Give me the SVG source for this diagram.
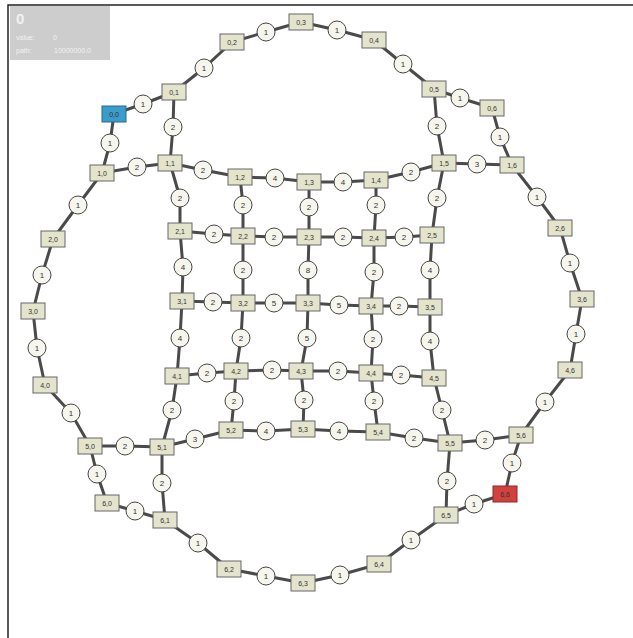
<svg xmlns="http://www.w3.org/2000/svg" width="633" height="638" viewBox="0 0 633 638">
<style>
.frame{stroke:#222;stroke-width:1.5;fill:none}
.e{fill:none;stroke:#4a4a4a;stroke-width:3;stroke-linejoin:round}
.w circle{fill:#f6f6ee;stroke:#444;stroke-width:1}
.w text{font-family:"Liberation Sans",Arial,sans-serif;font-size:8px;fill:#333;text-anchor:middle;dominant-baseline:central}
.n rect{fill:#e4e4cc;stroke:#666;stroke-width:1}
.n text{font-family:"Liberation Sans",Arial,sans-serif;font-size:7px;fill:#333;text-anchor:middle;dominant-baseline:central}
.n.start rect{fill:#3a9ccb;stroke:#2a6a8a}
.n.goal rect{fill:#d0413f;stroke:#8a2a2a}
.info text{font-family:"Liberation Sans",Arial,sans-serif;fill:#f2f2f2}
</style>
<rect width="633" height="638" fill="#fff"/>
<path class="frame" d="M8,638 V5 H633"/>
<g id="info" class="info">
<rect x="10" y="6" width="100" height="54" fill="#cdcdcd"/>
<text x="16" y="24" font-size="15" font-weight="bold">0</text>
<text x="16" y="40" font-size="7">value:</text>
<text x="53" y="40" font-size="7">0</text>
<text x="16" y="53" font-size="7">path:</text>
<text x="54" y="53" font-size="7">10000000.0</text>
</g>
<g id="connectors">
<path class="e" d="M114,114 L143,104 L174,92"/>
<path class="e" d="M174,92 L204,68 L232,42"/>
<path class="e" d="M232,42 L266,32 L301,22"/>
<path class="e" d="M301,22 L337,30 L374,40"/>
<path class="e" d="M374,40 L403,64 L434,89"/>
<path class="e" d="M434,89 L460,98 L492,108"/>
<path class="e" d="M102,173 L137,167 L170,163"/>
<path class="e" d="M170,163 L203,170 L240,177"/>
<path class="e" d="M240,177 L275,178 L309,182"/>
<path class="e" d="M309,182 L343,182 L376,180"/>
<path class="e" d="M376,180 L411,172 L444,163"/>
<path class="e" d="M444,163 L477,164 L512,165"/>
<path class="e" d="M180,231 L214,234 L243,236"/>
<path class="e" d="M243,236 L274,237 L309,237"/>
<path class="e" d="M309,237 L343,237 L374,238"/>
<path class="e" d="M374,238 L404,237 L432,235"/>
<path class="e" d="M182,301 L213,302 L243,303"/>
<path class="e" d="M243,303 L274,303 L308,303"/>
<path class="e" d="M308,303 L339,305 L371,306"/>
<path class="e" d="M371,306 L399,306 L430,307"/>
<path class="e" d="M177,376 L207,373 L236,371"/>
<path class="e" d="M236,371 L272,370 L301,371"/>
<path class="e" d="M301,371 L338,371 L371,373"/>
<path class="e" d="M371,373 L401,375 L434,378"/>
<path class="e" d="M90,446 L125,446 L162,447"/>
<path class="e" d="M162,447 L195,439 L231,430"/>
<path class="e" d="M231,430 L266,431 L303,429"/>
<path class="e" d="M303,429 L339,431 L378,432"/>
<path class="e" d="M378,432 L414,438 L450,443"/>
<path class="e" d="M450,443 L485,440 L521,435"/>
<path class="e" d="M107,503 L135,511 L165,520"/>
<path class="e" d="M165,520 L198,543 L229,569"/>
<path class="e" d="M229,569 L266,576 L303,583"/>
<path class="e" d="M303,583 L340,575 L379,564"/>
<path class="e" d="M379,564 L411,540 L446,515"/>
<path class="e" d="M446,515 L474,504 L505,494"/>
<path class="e" d="M114,114 L110,143 L102,173"/>
<path class="e" d="M102,173 L78,205 L53,239"/>
<path class="e" d="M53,239 L42,275 L33,311"/>
<path class="e" d="M33,311 L37,348 L45,385"/>
<path class="e" d="M45,385 L71,413 L90,446"/>
<path class="e" d="M90,446 L97,474 L107,503"/>
<path class="e" d="M174,92 L173,127 L170,163"/>
<path class="e" d="M170,163 L180,198 L180,231"/>
<path class="e" d="M180,231 L183,267 L182,301"/>
<path class="e" d="M182,301 L180,338 L177,376"/>
<path class="e" d="M177,376 L172,410 L162,447"/>
<path class="e" d="M162,447 L162,483 L165,520"/>
<path class="e" d="M240,177 L243,205 L243,236"/>
<path class="e" d="M243,236 L243,270 L243,303"/>
<path class="e" d="M243,303 L241,338 L236,371"/>
<path class="e" d="M236,371 L234,401 L231,430"/>
<path class="e" d="M309,182 L309,207 L309,237"/>
<path class="e" d="M309,237 L308,270 L308,303"/>
<path class="e" d="M308,303 L307,338 L301,371"/>
<path class="e" d="M301,371 L304,400 L303,429"/>
<path class="e" d="M376,180 L376,205 L374,238"/>
<path class="e" d="M374,238 L374,272 L371,306"/>
<path class="e" d="M371,306 L373,339 L371,373"/>
<path class="e" d="M371,373 L374,401 L378,432"/>
<path class="e" d="M434,89 L437,126 L444,163"/>
<path class="e" d="M444,163 L437,198 L432,235"/>
<path class="e" d="M432,235 L430,270 L430,307"/>
<path class="e" d="M430,307 L430,341 L434,378"/>
<path class="e" d="M434,378 L442,410 L450,443"/>
<path class="e" d="M450,443 L447,481 L446,515"/>
<path class="e" d="M492,108 L500,137 L512,165"/>
<path class="e" d="M512,165 L537,197 L560,228"/>
<path class="e" d="M560,228 L570,263 L582,299"/>
<path class="e" d="M582,299 L576,334 L570,370"/>
<path class="e" d="M570,370 L545,402 L521,435"/>
<path class="e" d="M521,435 L512,463 L505,494"/>
</g>
<g id="weights" class="w">
<g><circle cx="143" cy="104" r="9"/><text x="143" y="104">1</text></g>
<g><circle cx="204" cy="68" r="9"/><text x="204" y="68">1</text></g>
<g><circle cx="266" cy="32" r="9"/><text x="266" y="32">1</text></g>
<g><circle cx="337" cy="30" r="9"/><text x="337" y="30">1</text></g>
<g><circle cx="403" cy="64" r="9"/><text x="403" y="64">1</text></g>
<g><circle cx="460" cy="98" r="9"/><text x="460" y="98">1</text></g>
<g><circle cx="137" cy="167" r="9"/><text x="137" y="167">2</text></g>
<g><circle cx="203" cy="170" r="9"/><text x="203" y="170">2</text></g>
<g><circle cx="275" cy="178" r="9"/><text x="275" y="178">4</text></g>
<g><circle cx="343" cy="182" r="9"/><text x="343" y="182">4</text></g>
<g><circle cx="411" cy="172" r="9"/><text x="411" y="172">2</text></g>
<g><circle cx="477" cy="164" r="9"/><text x="477" y="164">3</text></g>
<g><circle cx="214" cy="234" r="9"/><text x="214" y="234">2</text></g>
<g><circle cx="274" cy="237" r="9"/><text x="274" y="237">2</text></g>
<g><circle cx="343" cy="237" r="9"/><text x="343" y="237">2</text></g>
<g><circle cx="404" cy="237" r="9"/><text x="404" y="237">2</text></g>
<g><circle cx="213" cy="302" r="9"/><text x="213" y="302">2</text></g>
<g><circle cx="274" cy="303" r="9"/><text x="274" y="303">5</text></g>
<g><circle cx="339" cy="305" r="9"/><text x="339" y="305">5</text></g>
<g><circle cx="399" cy="306" r="9"/><text x="399" y="306">2</text></g>
<g><circle cx="207" cy="373" r="9"/><text x="207" y="373">2</text></g>
<g><circle cx="272" cy="370" r="9"/><text x="272" y="370">2</text></g>
<g><circle cx="338" cy="371" r="9"/><text x="338" y="371">2</text></g>
<g><circle cx="401" cy="375" r="9"/><text x="401" y="375">2</text></g>
<g><circle cx="125" cy="446" r="9"/><text x="125" y="446">2</text></g>
<g><circle cx="195" cy="439" r="9"/><text x="195" y="439">3</text></g>
<g><circle cx="266" cy="431" r="9"/><text x="266" y="431">4</text></g>
<g><circle cx="339" cy="431" r="9"/><text x="339" y="431">4</text></g>
<g><circle cx="414" cy="438" r="9"/><text x="414" y="438">2</text></g>
<g><circle cx="485" cy="440" r="9"/><text x="485" y="440">2</text></g>
<g><circle cx="135" cy="511" r="9"/><text x="135" y="511">1</text></g>
<g><circle cx="198" cy="543" r="9"/><text x="198" y="543">1</text></g>
<g><circle cx="266" cy="576" r="9"/><text x="266" y="576">1</text></g>
<g><circle cx="340" cy="575" r="9"/><text x="340" y="575">1</text></g>
<g><circle cx="411" cy="540" r="9"/><text x="411" y="540">1</text></g>
<g><circle cx="474" cy="504" r="9"/><text x="474" y="504">1</text></g>
<g><circle cx="110" cy="143" r="9"/><text x="110" y="143">1</text></g>
<g><circle cx="78" cy="205" r="9"/><text x="78" y="205">1</text></g>
<g><circle cx="42" cy="275" r="9"/><text x="42" y="275">1</text></g>
<g><circle cx="37" cy="348" r="9"/><text x="37" y="348">1</text></g>
<g><circle cx="71" cy="413" r="9"/><text x="71" y="413">1</text></g>
<g><circle cx="97" cy="474" r="9"/><text x="97" y="474">1</text></g>
<g><circle cx="173" cy="127" r="9"/><text x="173" y="127">2</text></g>
<g><circle cx="180" cy="198" r="9"/><text x="180" y="198">2</text></g>
<g><circle cx="183" cy="267" r="9"/><text x="183" y="267">4</text></g>
<g><circle cx="180" cy="338" r="9"/><text x="180" y="338">4</text></g>
<g><circle cx="172" cy="410" r="9"/><text x="172" y="410">2</text></g>
<g><circle cx="162" cy="483" r="9"/><text x="162" y="483">2</text></g>
<g><circle cx="243" cy="205" r="9"/><text x="243" y="205">2</text></g>
<g><circle cx="243" cy="270" r="9"/><text x="243" y="270">2</text></g>
<g><circle cx="241" cy="338" r="9"/><text x="241" y="338">2</text></g>
<g><circle cx="234" cy="401" r="9"/><text x="234" y="401">2</text></g>
<g><circle cx="309" cy="207" r="9"/><text x="309" y="207">2</text></g>
<g><circle cx="308" cy="270" r="9"/><text x="308" y="270">8</text></g>
<g><circle cx="307" cy="338" r="9"/><text x="307" y="338">5</text></g>
<g><circle cx="304" cy="400" r="9"/><text x="304" y="400">2</text></g>
<g><circle cx="376" cy="205" r="9"/><text x="376" y="205">2</text></g>
<g><circle cx="374" cy="272" r="9"/><text x="374" y="272">2</text></g>
<g><circle cx="373" cy="339" r="9"/><text x="373" y="339">2</text></g>
<g><circle cx="374" cy="401" r="9"/><text x="374" y="401">2</text></g>
<g><circle cx="437" cy="126" r="9"/><text x="437" y="126">2</text></g>
<g><circle cx="437" cy="198" r="9"/><text x="437" y="198">2</text></g>
<g><circle cx="430" cy="270" r="9"/><text x="430" y="270">4</text></g>
<g><circle cx="430" cy="341" r="9"/><text x="430" y="341">4</text></g>
<g><circle cx="442" cy="410" r="9"/><text x="442" y="410">2</text></g>
<g><circle cx="447" cy="481" r="9"/><text x="447" y="481">2</text></g>
<g><circle cx="500" cy="137" r="9"/><text x="500" y="137">1</text></g>
<g><circle cx="537" cy="197" r="9"/><text x="537" y="197">1</text></g>
<g><circle cx="570" cy="263" r="9"/><text x="570" y="263">1</text></g>
<g><circle cx="576" cy="334" r="9"/><text x="576" y="334">1</text></g>
<g><circle cx="545" cy="402" r="9"/><text x="545" y="402">1</text></g>
<g><circle cx="512" cy="463" r="9"/><text x="512" y="463">1</text></g>
</g>
<g id="nodes">
<g id="n0_0" class="n start"><rect x="102" y="106" width="24" height="16"/><text x="114" y="114">0,0</text></g>
<g id="n0_1" class="n"><rect x="162" y="84" width="24" height="16"/><text x="174" y="92">0,1</text></g>
<g id="n0_2" class="n"><rect x="220" y="34" width="24" height="16"/><text x="232" y="42">0,2</text></g>
<g id="n0_3" class="n"><rect x="289" y="14" width="24" height="16"/><text x="301" y="22">0,3</text></g>
<g id="n0_4" class="n"><rect x="362" y="32" width="24" height="16"/><text x="374" y="40">0,4</text></g>
<g id="n0_5" class="n"><rect x="422" y="81" width="24" height="16"/><text x="434" y="89">0,5</text></g>
<g id="n0_6" class="n"><rect x="480" y="100" width="24" height="16"/><text x="492" y="108">0,6</text></g>
<g id="n1_0" class="n"><rect x="90" y="165" width="24" height="16"/><text x="102" y="173">1,0</text></g>
<g id="n1_1" class="n"><rect x="158" y="155" width="24" height="16"/><text x="170" y="163">1,1</text></g>
<g id="n1_2" class="n"><rect x="228" y="169" width="24" height="16"/><text x="240" y="177">1,2</text></g>
<g id="n1_3" class="n"><rect x="297" y="174" width="24" height="16"/><text x="309" y="182">1,3</text></g>
<g id="n1_4" class="n"><rect x="364" y="172" width="24" height="16"/><text x="376" y="180">1,4</text></g>
<g id="n1_5" class="n"><rect x="432" y="155" width="24" height="16"/><text x="444" y="163">1,5</text></g>
<g id="n1_6" class="n"><rect x="500" y="157" width="24" height="16"/><text x="512" y="165">1,6</text></g>
<g id="n2_0" class="n"><rect x="41" y="231" width="24" height="16"/><text x="53" y="239">2,0</text></g>
<g id="n2_1" class="n"><rect x="168" y="223" width="24" height="16"/><text x="180" y="231">2,1</text></g>
<g id="n2_2" class="n"><rect x="231" y="228" width="24" height="16"/><text x="243" y="236">2,2</text></g>
<g id="n2_3" class="n"><rect x="297" y="229" width="24" height="16"/><text x="309" y="237">2,3</text></g>
<g id="n2_4" class="n"><rect x="362" y="230" width="24" height="16"/><text x="374" y="238">2,4</text></g>
<g id="n2_5" class="n"><rect x="420" y="227" width="24" height="16"/><text x="432" y="235">2,5</text></g>
<g id="n2_6" class="n"><rect x="548" y="220" width="24" height="16"/><text x="560" y="228">2,6</text></g>
<g id="n3_0" class="n"><rect x="21" y="303" width="24" height="16"/><text x="33" y="311">3,0</text></g>
<g id="n3_1" class="n"><rect x="170" y="293" width="24" height="16"/><text x="182" y="301">3,1</text></g>
<g id="n3_2" class="n"><rect x="231" y="295" width="24" height="16"/><text x="243" y="303">3,2</text></g>
<g id="n3_3" class="n"><rect x="296" y="295" width="24" height="16"/><text x="308" y="303">3,3</text></g>
<g id="n3_4" class="n"><rect x="359" y="298" width="24" height="16"/><text x="371" y="306">3,4</text></g>
<g id="n3_5" class="n"><rect x="418" y="299" width="24" height="16"/><text x="430" y="307">3,5</text></g>
<g id="n3_6" class="n"><rect x="570" y="291" width="24" height="16"/><text x="582" y="299">3,6</text></g>
<g id="n4_0" class="n"><rect x="33" y="377" width="24" height="16"/><text x="45" y="385">4,0</text></g>
<g id="n4_1" class="n"><rect x="165" y="368" width="24" height="16"/><text x="177" y="376">4,1</text></g>
<g id="n4_2" class="n"><rect x="224" y="363" width="24" height="16"/><text x="236" y="371">4,2</text></g>
<g id="n4_3" class="n"><rect x="289" y="363" width="24" height="16"/><text x="301" y="371">4,3</text></g>
<g id="n4_4" class="n"><rect x="359" y="365" width="24" height="16"/><text x="371" y="373">4,4</text></g>
<g id="n4_5" class="n"><rect x="422" y="370" width="24" height="16"/><text x="434" y="378">4,5</text></g>
<g id="n4_6" class="n"><rect x="558" y="362" width="24" height="16"/><text x="570" y="370">4,6</text></g>
<g id="n5_0" class="n"><rect x="78" y="438" width="24" height="16"/><text x="90" y="446">5,0</text></g>
<g id="n5_1" class="n"><rect x="150" y="439" width="24" height="16"/><text x="162" y="447">5,1</text></g>
<g id="n5_2" class="n"><rect x="219" y="422" width="24" height="16"/><text x="231" y="430">5,2</text></g>
<g id="n5_3" class="n"><rect x="291" y="421" width="24" height="16"/><text x="303" y="429">5,3</text></g>
<g id="n5_4" class="n"><rect x="366" y="424" width="24" height="16"/><text x="378" y="432">5,4</text></g>
<g id="n5_5" class="n"><rect x="438" y="435" width="24" height="16"/><text x="450" y="443">5,5</text></g>
<g id="n5_6" class="n"><rect x="509" y="427" width="24" height="16"/><text x="521" y="435">5,6</text></g>
<g id="n6_0" class="n"><rect x="95" y="495" width="24" height="16"/><text x="107" y="503">6,0</text></g>
<g id="n6_1" class="n"><rect x="153" y="512" width="24" height="16"/><text x="165" y="520">6,1</text></g>
<g id="n6_2" class="n"><rect x="217" y="561" width="24" height="16"/><text x="229" y="569">6,2</text></g>
<g id="n6_3" class="n"><rect x="291" y="575" width="24" height="16"/><text x="303" y="583">6,3</text></g>
<g id="n6_4" class="n"><rect x="367" y="556" width="24" height="16"/><text x="379" y="564">6,4</text></g>
<g id="n6_5" class="n"><rect x="434" y="507" width="24" height="16"/><text x="446" y="515">6,5</text></g>
<g id="n6_6" class="n goal"><rect x="493" y="486" width="24" height="16"/><text x="505" y="494">6,6</text></g>
</g>
</svg>
